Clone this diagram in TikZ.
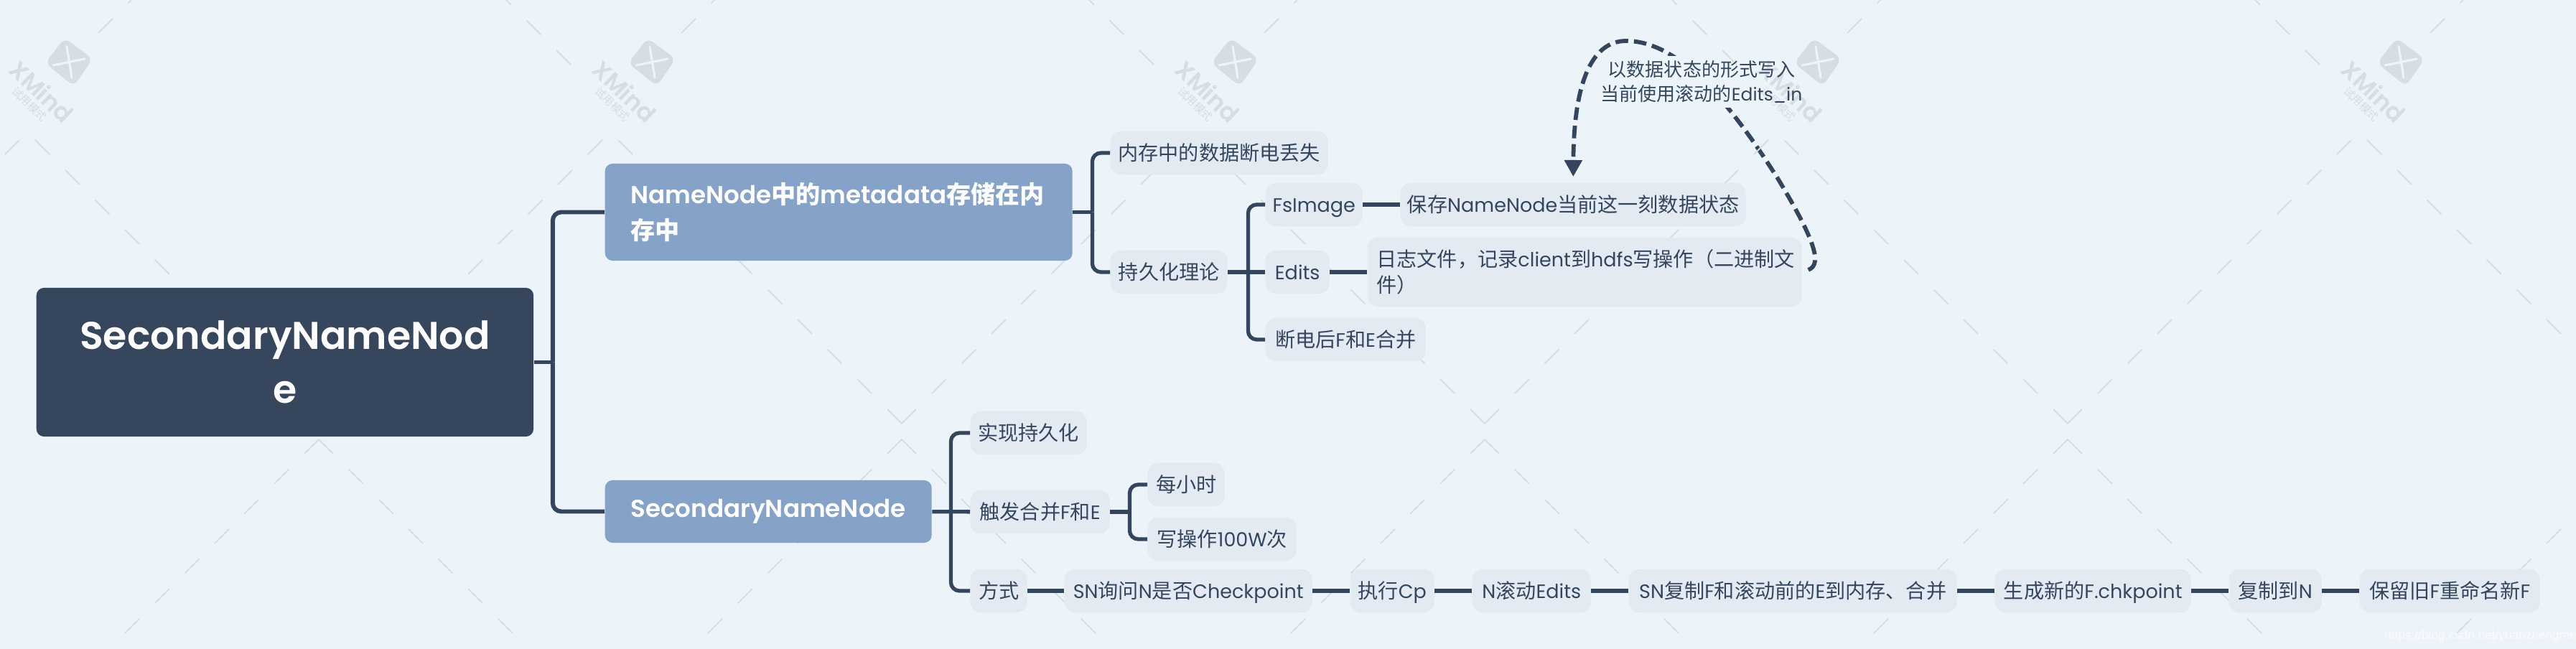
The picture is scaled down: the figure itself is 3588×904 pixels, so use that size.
\documentclass[tikz,border=0pt]{standalone}
\usepackage{fontspec}
\setmainfont[Scale=0.96]{Poppins}
\newfontfamily\semi{Poppins SemiBold}
\newfontfamily\cjk{Noto Sans CJK SC}
\newfontfamily\plainsans{Liberation Sans}
\newcommand{\zh}[1]{{\cjk #1}}
\newcommand{\zb}[1]{{\cjk\bfseries #1}}
\usetikzlibrary{arrows.meta}
\pgfdeclarelayer{mark}
\pgfdeclarelayer{front}
\pgfsetlayers{main,mark,front}
\definecolor{bgc}{HTML}{ECF3F9}
\definecolor{rootc}{HTML}{36465C}
\definecolor{branchc}{HTML}{85A2C9}
\definecolor{leafc}{HTML}{E3EAF1}
\definecolor{inkc}{HTML}{34465E}
\definecolor{markc}{HTML}{D6DEE4}
\tikzset{
  root/.style={fill=rootc, text=white, rounded corners=3pt, anchor=west, inner sep=0pt, minimum width=6.92cm, minimum height=2.07cm, align=center, font=\semi\fontsize{15.3}{21.3}\selectfont},
  branch/.style={fill=branchc, text=white, rounded corners=3pt, anchor=west, inner sep=0pt, minimum width=#1*0.01cm, font=\semi\fontsize{9.7}{14}\selectfont},
  leaf/.style={fill=leafc, text=inkc, rounded corners=4pt, anchor=west, inner sep=0pt, minimum width=#1*0.01cm, minimum height=0.6cm, text height=7.2pt, text depth=1.2pt, font=\fontsize{8}{10.2}\selectfont},
  link/.style={draw=inkc, line width=1.5pt, rounded corners=3.4pt},
  toplink/.style={link, line width=1.7pt},
  hint/.style={draw=inkc, line width=1.65pt, dash pattern=on 5pt off 2.3pt, -{Triangle[length=6.6pt,width=6.8pt]}, shorten <=2.5pt, shorten >=2.3pt},
  seam/.style={draw=markc, line width=0.55pt, dash pattern=on 8.05pt off 8.7pt},
}
\begin{document}
\begin{tikzpicture}[x=0.01cm, y=-0.01cm]
\useasboundingbox (0,0) rectangle (3588,904);
\fill[bgc] (0,0) rectangle (3588,904);
\begin{pgfonlayer}{mark}
\clip (0,0) rectangle (3588,904);
\foreach \k in {-1,...,4} { \begin{scope}[xshift=812*\k*0.01cm]
  \draw[seam] (444,590) -- (49,195); \draw[seam] (444,590) -- (839,195);
  \draw[seam] (444,612) -- (152,904); \draw[seam] (444,612) -- (736,904);
  \draw[seam] (795,90) -- (705,0); \draw[seam] (137,46) -- (183,0);
\end{scope} }
\foreach \k in {0,...,4} { \begin{scope}[xshift=812*\k*0.01cm]
  \fill[markc, rounded corners=2.5pt] (90,53) -- (129,82) -- (103,120) -- (63,88) -- cycle;
  \draw[bgc, line width=0.9pt, line cap=round] (93,65) -- (100,108) (74,91) -- (118,82);
  \node[rotate=-44, text=markc, font=\semi\fontsize{9.5}{10}\selectfont] (logo\k) at (58,127) {XMind};
  \node[rotate=-44, text=markc, font=\fontsize{4.3}{5}\selectfont] (trial\k) at (41,145) {\zh{试用模式}};
\end{scope} }
\end{pgfonlayer}
\begin{pgfonlayer}{front}
\node[root] (root) at (50,504.5) {SecondaryNameNod\\e};
\node[branch=651, minimum height=1.35cm, text width=5.79cm, align=left] (meta) at (842,295.5) {NameNode\zb{中的}metadata\zb{存储在内}\\\zb{存中}};
\node[branch=455, minimum height=0.87cm, text width=3.83cm, align=left] (second) at (842,712.5) {SecondaryNameNode};
\draw[toplink] (root.east) -- ++(26,0) coordinate (rootbus);
\draw[toplink] (rootbus) |- (meta.west); \draw[toplink] (rootbus) |- (second.west);
\node[leaf=303] (lost) at (1546,213) {\zh{内存中的数据断电丢失}};
\node[leaf=163] (theory) at (1546,379) {\zh{持久化理论}};
\node[leaf=135] (fsimage) at (1762,285) {FsImage};
\node[leaf=89] (edits) at (1762,379) {Edits};
\node[leaf=223] (merge) at (1762,473) {\zh{断电后}F\zh{和}E\zh{合并}};
\node[leaf=481] (keep) at (1950,285) {\zh{保存}NameNode\zh{当前这一刻数据状态}};
\node[leaf=605, minimum height=0.96cm, text height=, text depth=, text width=5.79cm, align=left] (log) at (1904,379) {\zh{日志文件，记录}client\zh{到}hdfs\zh{写操作（二进制文}\\\zh{件）}};
\draw[link] (meta.east) -- ++(27,0) coordinate (metabus);
\draw[link] (metabus) |- (lost.west); \draw[link] (metabus) |- (theory.west);
\path (theory.east) ++(28,0) coordinate (theorybus);
\draw[link] (theorybus) |- (fsimage.west); \draw[link] (theorybus) |- (merge.west);
\draw[link] (theory) -- (edits); \draw[link] (fsimage) -- (keep); \draw[link] (edits) -- (log);
\node[leaf=162] (achieve) at (1351,603) {\zh{实现持久化}};
\node[leaf=194] (trigger) at (1351,713) {\zh{触发合并}F\zh{和}E};
\node[leaf=79] (method) at (1351,823) {\zh{方式}};
\node[leaf=107] (hourly) at (1598,675) {\zh{每小时}};
\node[leaf=207] (writes) at (1598,751) {\zh{写操作}100W\zh{次}};
\node[leaf=345] (ask) at (1482,823) {SN\zh{询问}N\zh{是否}Checkpoint};
\node[leaf=117] (runcp) at (1880,823) {\zh{执行}Cp};
\node[leaf=165] (roll) at (2050,823) {N\zh{滚动}Edits};
\node[leaf=457] (copyfe) at (2268,823) {SN\zh{复制}F\zh{和滚动前的}E\zh{到内存、合并}};
\node[leaf=273] (newck) at (2778,823) {\zh{生成新的}F.chkpoint};
\node[leaf=129] (copyn) at (3104,823) {\zh{复制到}N};
\node[leaf=251] (rename) at (3286,823) {\zh{保留旧}F\zh{重命名新}F};
\path (second.east) ++(26,0) coordinate (secondbus);
\draw[link] (secondbus) |- (achieve.west); \draw[link] (secondbus) |- (method.west);
\draw[link] (second) -- (trigger);
\draw[link] (trigger.east) -- ++(27,0) coordinate (triggerbus);
\draw[link] (triggerbus) |- (hourly.west); \draw[link] (triggerbus) |- (writes.west);
\foreach \a/\b in {method/ask,ask/runcp,runcp/roll,roll/copyfe,copyfe/newck,newck/copyn,copyn/rename} \draw[link] (\a) -- (\b);
\node[text=inkc, inner sep=0pt, minimum width=2.78cm, minimum height=0.7cm, align=center, font=\fontsize{7.4}{9.7}\selectfont] (note) at (2370,114) {\zh{以数据状态的形式写入}\\\zh{当前使用滚动的}Edits\_in};
\end{pgfonlayer}
\draw[hint] (log.east) .. controls (2540,368) and (2525,330) .. (2477,250) .. controls (2420,160) and (2345,57) .. (2265,57) .. controls (2215,57) and (2192,120) .. (keep.north);
\fill[bgc] (note.south west) rectangle (note.north east);
\node[text=white, opacity=0.75, inner sep=0pt, font=\plainsans\fontsize{4.9}{6}\selectfont] (url) at (3455,886) {https://blog.csdn.net/yuanzhengme};
\end{tikzpicture}
\end{document}
